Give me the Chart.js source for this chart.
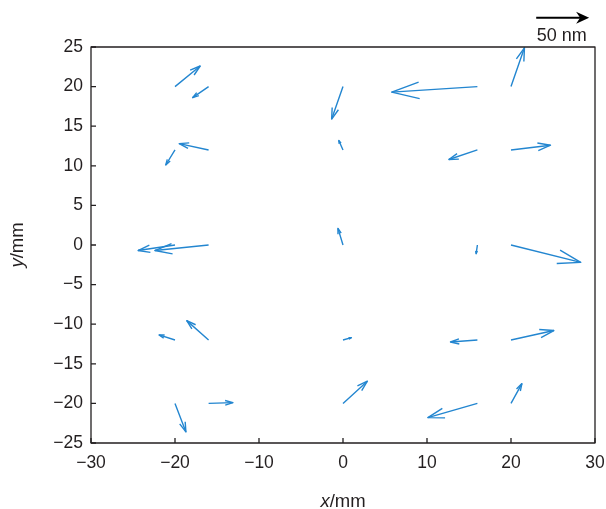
<!DOCTYPE html>
<html>
<head>
<meta charset="utf-8">
<script src="https://cdn.jsdelivr.net/npm/chart.js@4"></script>
<style>
  html, body { margin: 0; padding: 0; background: #fff; }
  #wrap { width: 606px; height: 509px; }
</style>
</head>
<body>
<div id="wrap"><canvas id="quiver" width="606" height="509"></canvas></div>
<script>
// arrow tails (mm) and displacement components, in plot units
const tailX = [-20, -16, 0, 16, 20,   -20, -16, 0, 16, 20,   -20, -16, 0, 16, 20,   -20, -16, 0, 16, 20,   -20, -16, 0, 16, 20];
const tailY = [ 20,  20, 20, 20, 20,   12,  12, 12, 12, 12,     0,   0, 0,  0,  0,   -12, -12, -12, -12, -12,  -20, -20, -20, -20, -20];
const vecU  = [3.0, -1.9, -1.35, -10.2, 1.6,   -1.1, -3.5, -0.5, -3.4, 4.7,   -4.4, -6.4, -0.6, -0.15, 8.3,   -1.9, -2.6, 1.0, -3.2, 5.1,   1.3, 2.9, 2.9, -5.9, 1.3];
const vecV  = [2.6, -1.4, -4.1,  -0.7, 4.9,   -1.9,  0.8,  1.2, -1.2, 0.6,   -0.7, -0.7,  2.1, -1.1, -2.2,    0.65, 2.45, 0.3, -0.25, 1.2,   -3.6, 0.1, 2.8, -1.8, 2.5];

// reference arrow (50 nm) drawn above the frame
const keyX = [23.0];
const keyY = [28.7];
const keyU = [6.3];
const keyLabel = ['50 nm'];

const xTicks = [-30, -20, -10, 0, 10, 20, 30];
const yTicks = [-25, -20, -15, -10, -5, 0, 5, 10, 15, 20, 25];

const blue = '#2386d0';
const ink = '#231f20';
const minus = v => (v < 0 ? '\u2212' + Math.abs(v) : String(v));

// shafts as one broken line: tail, head, gap
const shafts = [];
tailX.forEach((x, i) => {
    shafts.push({x: x, y: tailY[i]});
    shafts.push({x: x + vecU[i], y: tailY[i] + vecV[i]});
    shafts.push({x: x, y: null});
});
const keyShaft = [{x: keyX[0], y: keyY[0]}, {x: keyX[0] + keyU[0] - 0.6, y: keyY[0]}];

const arrowPlugin = {
    id: 'arrows',
    afterDatasetsDraw(chart) {
        const {ctx, chartArea: a, scales: {x: sx, y: sy}} = chart;
        ctx.save();
        // quiver heads, MATLAB style
        ctx.strokeStyle = blue;
        ctx.lineWidth = 1.4;
        ctx.lineJoin = 'round';
        const alpha = 0.32, beta = 0.3;
        tailX.forEach((x, i) => {
            const x0 = sx.getPixelForValue(x), y0 = sy.getPixelForValue(tailY[i]);
            const x1 = sx.getPixelForValue(x + vecU[i]), y1 = sy.getPixelForValue(tailY[i] + vecV[i]);
            const du = x1 - x0, dv = y1 - y0;
            ctx.beginPath();
            ctx.moveTo(x1 - alpha * (du + beta * dv), y1 - alpha * (dv - beta * du));
            ctx.lineTo(x1, y1);
            ctx.lineTo(x1 - alpha * (du - beta * dv), y1 - alpha * (dv + beta * du));
            ctx.stroke();
        });

        // key arrow head + label
        const kx0 = sx.getPixelForValue(keyX[0]);
        const kx = sx.getPixelForValue(keyX[0] + keyU[0]);
        const ky = sy.getPixelForValue(keyY[0]);
        ctx.fillStyle = '#000';
        ctx.beginPath();
        ctx.moveTo(kx, ky);
        ctx.lineTo(kx - 13, ky - 6);
        ctx.lineTo(kx - 9, ky);
        ctx.lineTo(kx - 13, ky + 6);
        ctx.closePath();
        ctx.fill();
        ctx.fillStyle = ink;
        ctx.font = '18px "Liberation Sans", Arial, sans-serif';
        ctx.textAlign = 'center';
        ctx.textBaseline = 'alphabetic';
        ctx.fillText(keyLabel[0], (kx0 + kx) / 2 - 1, ky + 23);

        // frame
        ctx.strokeStyle = ink;
        ctx.lineWidth = 1.3;
        ctx.strokeRect(a.left, a.top, a.right - a.left, a.bottom - a.top);

        // inward ticks on left and bottom
        ctx.beginPath();
        yTicks.forEach(t => {
            const p = sy.getPixelForValue(t);
            ctx.moveTo(a.left, p); ctx.lineTo(a.left + 5, p);
        });
        xTicks.forEach(t => {
            const p = sx.getPixelForValue(t);
            ctx.moveTo(p, a.bottom); ctx.lineTo(p, a.bottom - 5);
        });
        ctx.stroke();

        // axis titles with italic variable
        const titleFont = '18.5px "Liberation Sans", Arial, sans-serif';
        const italFont = 'italic 18.5px "Liberation Sans", Arial, sans-serif';
        const drawTitle = (v, rest, cx, cy, rot) => {
            ctx.save();
            ctx.translate(cx, cy);
            ctx.rotate(rot);
            ctx.font = italFont;
            const w1 = ctx.measureText(v).width;
            ctx.font = titleFont;
            const w2 = ctx.measureText(rest).width;
            const start = -(w1 + w2) / 2;
            ctx.textAlign = 'left';
            ctx.fillStyle = ink;
            ctx.font = italFont;
            ctx.fillText(v, start, 0);
            ctx.font = titleFont;
            ctx.fillText(rest, start + w1, 0);
            ctx.restore();
        };
        drawTitle('x', '/mm', (a.left + a.right) / 2, 507, 0);
        drawTitle('y', '/mm', 23, (a.top + a.bottom) / 2, -Math.PI / 2);
        ctx.restore();
    }
};

new Chart('quiver', {
    type: 'scatter',
    data: {
        datasets: [
            {
                label: 'displacement',
                data: shafts,
                showLine: true,
                spanGaps: false,
                borderColor: blue,
                borderWidth: 1.4,
                pointRadius: 0,
                pointHoverRadius: 0
            },
            {
                label: 'key',
                data: keyShaft,
                showLine: true,
                borderColor: '#000',
                borderWidth: 2,
                pointRadius: 0,
                clip: false
            }
        ]
    },
    options: {
        responsive: false,
        animation: false,
        events: [],
        layout: {padding: {left: 0, right: 11, top: 47, bottom: 0}},
        plugins: {
            legend: {display: false},
            tooltip: {enabled: false}
        },
        scales: {
            x: {
                type: 'linear',
                min: -30,
                max: 30,
                afterBuildTicks: s => { s.ticks = xTicks.map(v => ({value: v})); },
                afterFit: s => { s.height = 66; s.paddingLeft = 0; s.paddingRight = 0; },
                grid: {drawOnChartArea: false, drawTicks: false},
                border: {display: false},
                ticks: {
                    padding: 10,
                    color: ink,
                    font: {family: '"Liberation Sans", Arial, sans-serif', size: 17.5},
                    maxRotation: 0,
                    callback: minus
                }
            },
            y: {
                type: 'linear',
                min: -25,
                max: 25,
                afterBuildTicks: s => { s.ticks = yTicks.map(v => ({value: v})); },
                afterFit: s => { s.width = 91; s.paddingTop = 0; s.paddingBottom = 0; },
                grid: {drawOnChartArea: false, drawTicks: false},
                border: {display: false},
                ticks: {
                    padding: 8,
                    color: ink,
                    font: {family: '"Liberation Sans", Arial, sans-serif', size: 17.5},
                    callback: minus
                }
            }
        }
    },
    plugins: [arrowPlugin]
});
</script>
</body>
</html>
